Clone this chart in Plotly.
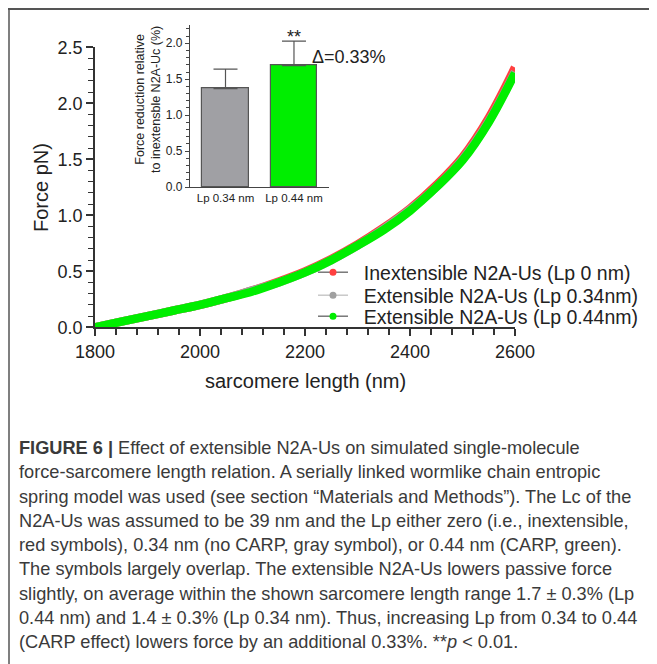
import plotly.graph_objects as go

# The page adds an 8 px body margin, so the figure is drawn 8 px in from the
# window's top-left corner; positions below are given in window pixels.
OFF = 8
W, H = 657 - OFF, 664 - OFF

def px(x):
    return (x - OFF) / W

def py(y):
    return 1 - (y - OFF) / H

# ---------------- data ----------------
sarcomere_nm = [1800, 1850, 1900, 1950, 2000, 2050, 2100, 2150, 2200,
                2250, 2300, 2350, 2400, 2450, 2500, 2550, 2600]
force_inext = [0.00, 0.05, 0.10, 0.15, 0.20, 0.26, 0.33, 0.41, 0.50,
               0.61, 0.74, 0.89, 1.06, 1.27, 1.52, 1.87, 2.32]
force_lp034 = [0.00, 0.05, 0.10, 0.15, 0.20, 0.26, 0.33, 0.40, 0.49,
               0.60, 0.73, 0.88, 1.05, 1.25, 1.50, 1.84, 2.28]
force_lp044 = [0.00, 0.05, 0.10, 0.15, 0.20, 0.26, 0.32, 0.40, 0.49,
               0.60, 0.73, 0.87, 1.04, 1.25, 1.49, 1.83, 2.27]

series_names = ["Inextensible N2A-Us (Lp 0 nm)",
                "Extensible N2A-Us (Lp 0.34nm)",
                "Extensible N2A-Us (Lp 0.44nm)"]
series_colors = ["#ff4040", "#a0a0a0", "#00ee00"]
legend_line_colors = ["#555555", "#bbbbbb", "#555555"]

bar_labels = ["Lp 0.34 nm", "Lp 0.44 nm"]
bar_values = [1.37, 1.69]
bar_err_up = [0.27, 0.34]
bar_colors = ["#a0a0a4", "#00ee00"]

caption_lines = [
    "<b>FIGURE 6 |</b> Effect of extensible N2A-Us on simulated single-molecule",
    "force-sarcomere length relation. A serially linked wormlike chain entropic",
    "spring model was used (see section \u201cMaterials and Methods\u201d). The Lc of the",
    "N2A-Us was assumed to be 39 nm and the Lp either zero (i.e., inextensible,",
    "red symbols), 0.34 nm (no CARP, gray symbol), or 0.44 nm (CARP, green).",
    "The symbols largely overlap. The extensible N2A-Us lowers passive force",
    "slightly, on average within the shown sarcomere length range 1.7 \u00b1 0.3% (Lp",
    "0.44 nm) and 1.4 \u00b1 0.3% (Lp 0.34 nm). Thus, increasing Lp from 0.34 to 0.44",
    "(CARP effect) lowers force by an additional 0.33%. **<i>p</i> < 0.01.",
]

FONT = "Liberation Sans, Arial, sans-serif"

fig = go.Figure()

# main curves
for ys, col in zip([force_inext, force_lp034, force_lp044], series_colors):
    fig.add_trace(go.Scatter(
        x=sarcomere_nm, y=ys, mode="lines",
        line=dict(color=col, width=8.5, shape="spline"),
        showlegend=False, xaxis="x", yaxis="y", hoverinfo="skip"))

# legend entries, each in its own legend box
legend_tops = [253, 276, 297]
legend_keys = ["legend", "legend2", "legend3"]
for name, col, lcol, lk in zip(series_names, series_colors, legend_line_colors, legend_keys):
    fig.add_trace(go.Scatter(
        x=[None], y=[None], mode="lines+markers", name="\u00a0\u00a0" + name,
        line=dict(color=lcol, width=1.2),
        marker=dict(color=col, size=7),
        legend=lk, xaxis="x", yaxis="y"))

# inset bars
fig.add_trace(go.Bar(
    x=[0, 1], y=bar_values, width=0.68,
    marker=dict(color=bar_colors, line=dict(color="#555555", width=1.2)),
    error_y=dict(type="data", symmetric=False, array=bar_err_up,
                 arrayminus=[0, 0], color="#555555", thickness=1.2, width=12),
    showlegend=False, xaxis="x2", yaxis="y2", hoverinfo="skip"))

axis_common = dict(showline=True, linecolor="#333333", linewidth=1.5,
                   ticks="outside", tickcolor="#333333", showgrid=False,
                   zeroline=False, automargin=False)

legend_common = dict(xanchor="left", yanchor="top", bgcolor="rgba(0,0,0,0)",
                     font=dict(size=19.5, color="#222222"), itemwidth=30,
                     borderwidth=0)

fig.update_layout(
    template="none",
    width=W, height=H,
    margin=dict(l=0, r=0, t=0, b=0, autoexpand=False),
    paper_bgcolor="white", plot_bgcolor="rgba(0,0,0,0)",
    font=dict(family=FONT, color="#222222"),
    xaxis=dict(domain=[px(95), px(515)], range=[1800, 2600],
               tickvals=[1800, 2000, 2200, 2400, 2600], ticklen=7, tickwidth=1.5,
               minor=dict(dtick=40, ticks="outside", ticklen=6, tickcolor="#333333", tickwidth=1.5),
               tickfont=dict(size=18, color="#222222"), anchor="y",
               **axis_common),
    yaxis=dict(domain=[py(327.3), py(47.3)], range=[0, 2.5],
               tickvals=[0, 0.5, 1.0, 1.5, 2.0, 2.5], ticktext=["0.0", "0.5", "1.0", "1.5", "2.0", "2.5"],
               ticklen=7, tickwidth=1.5,
               minor=dict(dtick=0.1, ticks="outside", ticklen=5, tickcolor="#333333", tickwidth=1.2),
               tickfont=dict(size=18, color="#222222"), anchor="x",
               **axis_common),
    xaxis2=dict(domain=[px(190), px(329)], range=[-0.5185, 1.5115],
                tickvals=[0, 1], ticktext=bar_labels, ticks="",
                showline=True, linecolor="#444444", linewidth=1.2, showgrid=False,
                zeroline=False, automargin=False,
                tickfont=dict(size=11.5, color="#222222"), anchor="y2"),
    yaxis2=dict(domain=[py(187), py(25.3)], range=[0, 2.25],
                tickvals=[0, 0.5, 1.0, 1.5, 2.0], ticktext=["0.0", "0.5", "1.0", "1.5", "2.0"],
                ticks="outside", ticklen=4, tickwidth=1, tickcolor="#444444",
                minor=dict(dtick=0.1, ticks="outside", ticklen=3, tickcolor="#444444", tickwidth=1),
                showline=True, linecolor="#444444", linewidth=1.2, showgrid=False,
                zeroline=False, automargin=False,
                tickfont=dict(size=12, color="#222222"), anchor="x2"),
    legend=dict(x=px(313), y=py(legend_tops[0]), **legend_common),
    legend2=dict(x=px(313), y=py(legend_tops[1]), **legend_common),
    legend3=dict(x=px(313), y=py(legend_tops[2]), **legend_common),
    bargap=0,
)

annotations = [
    dict(text="Force pN)", x=px(41), y=py(188), textangle=-90, font=dict(size=20)),
    dict(text="sarcomere length (nm)", x=px(305), y=py(381), font=dict(size=20)),
    dict(text="Force reduction relative<br>to inextensble N2A-Uc (%)", x=px(148), y=py(100),
         textangle=-90, font=dict(size=12.5)),
    dict(text="**", x=1, y=2.03, xref="x2", yref="y2", yanchor="bottom", yshift=-8,
         font=dict(size=18)),
    dict(text="\u0394=0.33%", x=px(310), y=py(57), xanchor="left", font=dict(size=18)),
]
for a in annotations:
    a.setdefault("xref", "paper")
    a.setdefault("yref", "paper")
    a.setdefault("showarrow", False)
    a.setdefault("xanchor", "center")
    a.setdefault("yanchor", "middle")

for i, line in enumerate(caption_lines):
    annotations.append(dict(text=line, x=px(17), y=py(448 + 24.25 * i), xref="paper", yref="paper",
                            xanchor="left", yanchor="middle", showarrow=False,
                            font=dict(family=FONT, size=18.2, color="#3a3a3a")))

fig.update_layout(annotations=annotations)

fig.update_layout(shapes=[
    dict(type="line", xref="paper", yref="paper", x0=0, x1=1, y0=1 - 1 / H, y1=1 - 1 / H,
         line=dict(color="#555555", width=1.8)),
    dict(type="line", xref="paper", yref="paper", x0=1 / W, x1=1 / W, y0=1, y1=0,
         line=dict(color="#555555", width=1.5)),
])

fig.write_html("out.html")
